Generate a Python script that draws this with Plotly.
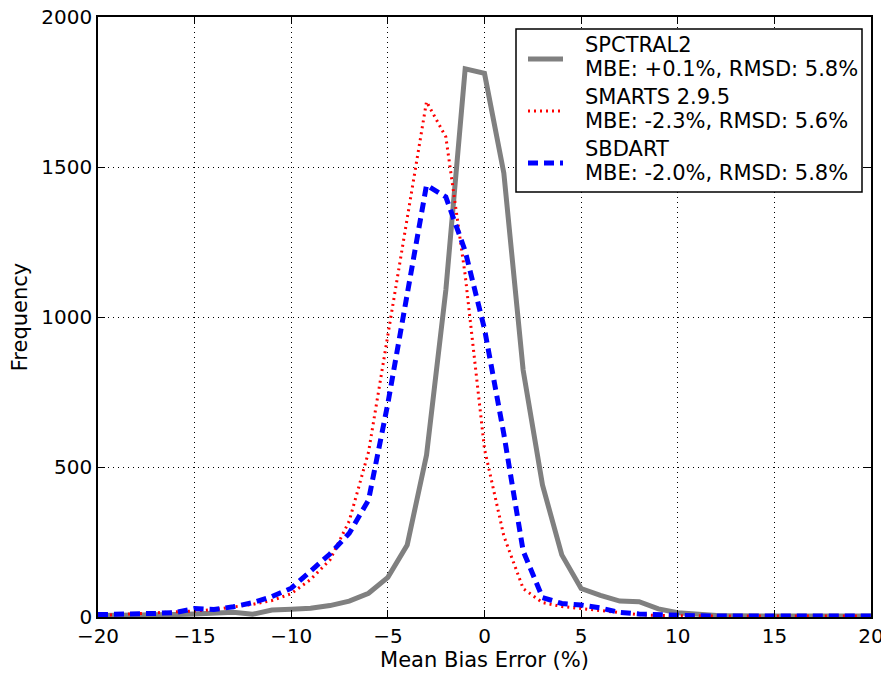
import plotly.graph_objects as go

x_vals = list(range(-20, 21))

# values at x = -20 ... 20 (step 1)
spctral2 = [5, 5, 6, 6, 8, 10, 12, 16, 9, 23, 26, 29, 38, 53, 79, 132, 240, 540, 1090, 1827,
            1812, 1480, 823, 440, 207, 95, 72, 53, 51, 27, 14, 8, 5, 4, 3, 3, 3, 3, 3, 3, 3]
smarts = [5, 8, 10, 15, 18, 20, 25, 33, 42, 55, 78, 125, 190, 320, 550, 940, 1330, 1718, 1600, 1140,
          560, 270, 95, 48, 35, 28, 20, 15, 8, 5, 4, 3, 3, 3, 3, 3, 3, 3, 3, 3, 3]
sbdart = [8, 8, 10, 12, 15, 28, 25, 34, 48, 68, 96, 155, 210, 279, 390, 712, 1070, 1440, 1400, 1220,
          960, 610, 220, 65, 45, 40, 30, 15, 10, 7, 5, 4, 3, 3, 3, 3, 3, 3, 3, 3, 3]

series_names = ["SPCTRAL2", "SMARTS 2.9.5", "SBDART"]
series_stats = ["MBE: +0.1%, RMSD: 5.8%", "MBE: -2.3%, RMSD: 5.6%", "MBE: -2.0%, RMSD: 5.8%"]

x_ticks = [-20, -15, -10, -5, 0, 5, 10, 15, 20]
y_ticks = [0, 500, 1000, 1500, 2000]

styles = [dict(color="#808080", width=5),
          dict(color="red", width=3, dash="2px,4px"),
          dict(color="blue", width=5, dash="10px,6px")]

fig = go.Figure()
for name, ys, st in zip(series_names, [spctral2, smarts, sbdart], styles):
    fig.add_trace(go.Scatter(x=x_vals, y=ys, mode="lines", name=name, line=st,
                             showlegend=False))

axis_common = dict(showline=True, linecolor="black", linewidth=1.5, mirror="allticks",
                   ticks="inside", ticklen=7, tickcolor="black", tickwidth=1,
                   showgrid=True, gridcolor="black", griddash="1px,4px", gridwidth=1,
                   zeroline=False, automargin=False, ticklabeloverflow="allow",
                   tickfont=dict(size=20, color="black"))

def lab(v):
    return str(v).replace("-", "\u2212")

# page body has an 8px margin; figure size/margins compensate for it
W, H = 881, 665
ML, MR, MT, MB = 90, 18, 9, 56
PW, PH = W - ML - MR, H - MT - MB

def px(xp):   # window pixel x -> paper
    return (xp - 8 - ML) / PW

def py(yp):   # window pixel y -> paper
    return (H - MB - (yp - 8)) / PH

shapes = [dict(type="rect", xref="paper", yref="paper",
               x0=px(516), x1=px(862), y0=py(192), y1=py(29),
               line=dict(color="black", width=1.5), fillcolor="white", layer="above")]
annotations = []
sym_y = [59, 111, 163]
t1_y = [45, 97, 149]
for i in range(3):
    shapes.append(dict(type="line", xref="paper", yref="paper",
                       x0=px(528), x1=px(563), y0=py(sym_y[i]), y1=py(sym_y[i]),
                       line=styles[i], layer="above"))
    annotations.append(dict(xref="paper", yref="paper", x=px(583), y=py(t1_y[i]),
                            xanchor="left", yanchor="middle", showarrow=False,
                            text=series_names[i], font=dict(size=21, color="black")))
    annotations.append(dict(xref="paper", yref="paper", x=px(583), y=py(t1_y[i] + 24),
                            xanchor="left", yanchor="middle", showarrow=False,
                            text=series_stats[i], font=dict(size=21, color="black")))

fig.update_layout(
    width=W, height=H,
    margin=dict(l=ML, r=MR, t=MT, b=MB),
    paper_bgcolor="white", plot_bgcolor="white",
    font=dict(family="DejaVu Sans", color="black", size=20),
    xaxis=dict(range=[-20, 20], tickvals=x_ticks, ticktext=[lab(v) for v in x_ticks],
               title=dict(text="Mean Bias Error (%)", standoff=4, font=dict(size=21)),
               **axis_common),
    yaxis=dict(range=[0, 2000], tickvals=y_ticks, ticktext=[lab(v) for v in y_ticks],
               title=dict(text="Frequency", standoff=8, font=dict(size=21)),
               **axis_common),
    shapes=shapes,
    annotations=annotations,
    showlegend=False,
)

fig.write_html("out.html")
